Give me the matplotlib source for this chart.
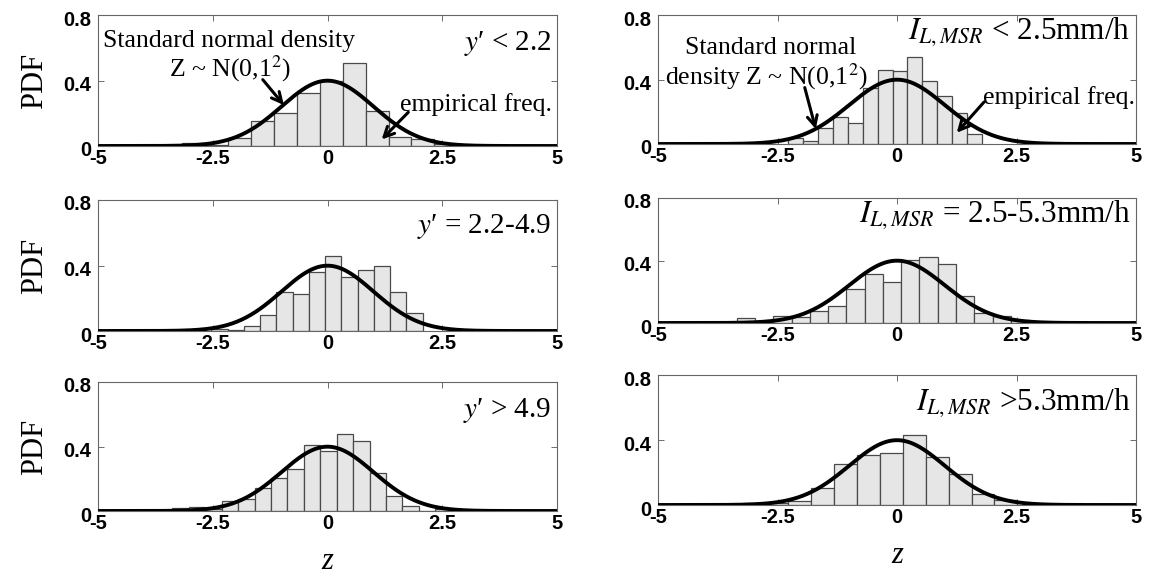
import numpy as np
import matplotlib
matplotlib.use("Agg")
import matplotlib.pyplot as plt
from matplotlib.transforms import ScaledTranslation

plt.rcParams['mathtext.fontset'] = 'stix'

# ---------------- data ----------------
# bin start / bin width / bar heights for each panel
p1_start, p1_width = -3.17, 0.50
p1_heights = [0.02, 0.008, 0.05, 0.15, 0.20, 0.325, 0.395, 0.505, 0.215, 0.055, 0.045, 0.015]

p2_start, p2_width = -2.27, 0.311
p2_heights = [0.04, 0.02, 0.097, 0.166, 0.133, 0.345, 0.46, 0.45, 0.54, 0.39, 0.30, 0.19, 0.06]

p3_start, p3_width = -2.53, 0.354
p3_heights = [0.015, 0.008, 0.03, 0.10, 0.24, 0.225, 0.36, 0.455, 0.33, 0.375, 0.40, 0.237, 0.108]

p4_start, p4_width = -3.35, 0.382
p4_heights = [0.03, 0.01, 0.042, 0.04, 0.078, 0.11, 0.218, 0.315, 0.265, 0.405, 0.42, 0.38,
              0.17, 0.062, 0.046, 0.02]

p5_start, p5_width = -3.38, 0.358
p5_heights = [0.018, 0.025, 0.014, 0.064, 0.074, 0.144, 0.204, 0.26, 0.41, 0.372, 0.478, 0.435,
              0.237, 0.092, 0.03, 0.0, 0.012]

p6_start, p6_width = -3.23, 0.479
p6_heights = [0.015, 0.012, 0.025, 0.105, 0.25, 0.305, 0.32, 0.43, 0.295, 0.19, 0.068, 0.03]

panel_labels = [r"$y$′ < 2.2", r"$I_{L,MSR}$ < 2.5mm/h",
                r"$y$′ = 2.2-4.9", r"$I_{L,MSR}$ = 2.5-5.3mm/h",
                r"$y$′ > 4.9", r"$I_{L,MSR}$ >5.3mm/h"]

x_ticks = [-5, -2.5, 0, 2.5, 5]
x_tick_labels = ["-5", "-2.5", "0", "2.5", "5"]
y_ticks = [0, 0.4, 0.8]
y_tick_labels = ["0", "0.4", "0.8"]

# theoretical standard normal density parameters
norm_mu, norm_sigma = 0.0, 1.0

# ---------------- figure ----------------
W, H = 1151, 576
fig = plt.figure(figsize=(W / 100, H / 100), dpi=100)

col_x = [(98, 557), (658, 1136)]
rows_left = [(15, 146), (200, 331), (382, 511)]
rows_right = [(15, 144), (198, 323), (375, 505)]

starts = [p1_start, p2_start, p3_start, p4_start, p5_start, p6_start]
widths = [p1_width, p2_width, p3_width, p4_width, p5_width, p6_width]
heights = [p1_heights, p2_heights, p3_heights, p4_heights, p5_heights, p6_heights]
label_baseline = [0.585, 0.65, 0.598, 0.65, 0.585, 0.589]
label_size = [21, 22.5, 21, 22.5, 21, 22.5]

serif = ['Liberation Serif', 'DejaVu Serif']
tick_font = dict(family='Liberation Sans', weight='bold', size=14.5)

zg = np.linspace(-5, 5, 500)
pdf = np.exp(-0.5 * ((zg - norm_mu) / norm_sigma) ** 2) / (norm_sigma * np.sqrt(2 * np.pi))

down = ScaledTranslation(0, -3 / 100, fig.dpi_scale_trans)

axes = []
for i in range(6):
    r, c = divmod(i, 2)
    x0, x1 = col_x[c]
    y0, y1 = (rows_left if c == 0 else rows_right)[r]
    ax = fig.add_axes([x0 / W, 1 - y1 / H, (x1 - x0) / W, (y1 - y0) / H])
    axes.append(ax)
    n = len(heights[i])
    edges = starts[i] + widths[i] * np.arange(n + 1)
    ax.bar(edges[:-1], heights[i], width=widths[i], align='edge',
           facecolor='#e6e6e6', edgecolor='#4a4a4a', linewidth=0.9, zorder=2)
    ax.plot(zg, pdf, color='black', lw=2.8, zorder=3, solid_capstyle='butt')
    ax.set_xlim(-5, 5)
    ax.set_ylim(0, 0.8)
    ax.set_xticks(x_ticks)
    ax.set_xticklabels(x_tick_labels, fontdict=tick_font)
    ax.set_yticks(y_ticks)
    ax.set_yticklabels(y_tick_labels, fontdict=tick_font)
    ax.tick_params(direction='in', length=4, width=0.6, top=True, right=True,
                   colors='#555555', labelcolor='black')
    ax.tick_params(axis='x', pad=2)
    ax.tick_params(axis='y', pad=5)
    for lab in ax.get_yticklabels():
        lab.set_transform(lab.get_transform() + down)
    for s in ax.spines.values():
        s.set_color('#666666')
        s.set_linewidth(0.8)
    ax.text(4.88, label_baseline[i], panel_labels[i], ha='right', va='baseline',
            fontsize=label_size[i], family=serif)
    if c == 0:
        ax.set_ylabel('PDF', family=serif, fontsize=22, labelpad=10)
    if r == 2:
        ax.set_xlabel('z', family=serif, style='italic', fontsize=22, labelpad=10)

arrow = dict(arrowstyle='->', lw=2.2, color='black', mutation_scale=18, shrinkA=0, shrinkB=0)
ann_fs = 18.5

# panel 1 annotations
a = axes[0]
a.text(-4.9, 0.605, 'Standard normal density', ha='left', va='baseline', fontsize=ann_fs, family=serif)
a.text(-3.46, 0.426, r'Z ~ N(0,1$^2$)', ha='left', va='baseline', fontsize=ann_fs, family=serif)
a.annotate('', xy=(-0.95, 0.25), xytext=(-1.41, 0.405), arrowprops=arrow, zorder=5)
a.text(4.9, 0.216, 'empirical freq.', ha='right', va='baseline', fontsize=ann_fs, family=serif)
a.annotate('', xy=(1.18, 0.04), xytext=(1.76, 0.206), arrowprops=arrow, zorder=5)

# panel 2 annotations
a = axes[1]
a.text(-4.43, 0.56, 'Standard normal', ha='left', va='baseline', fontsize=ann_fs, family=serif)
a.text(-4.85, 0.37, r'density Z ~ N(0,1$^2$)', ha='left', va='baseline', fontsize=ann_fs, family=serif)
a.annotate('', xy=(-1.7, 0.093), xytext=(-1.93, 0.35), arrowprops=arrow, zorder=5)
a.text(4.97, 0.25, 'empirical freq.', ha='right', va='baseline', fontsize=ann_fs, family=serif)
a.annotate('', xy=(1.25, 0.07), xytext=(1.82, 0.26), arrowprops=arrow, zorder=5)

fig.savefig('out.png', dpi=100)
